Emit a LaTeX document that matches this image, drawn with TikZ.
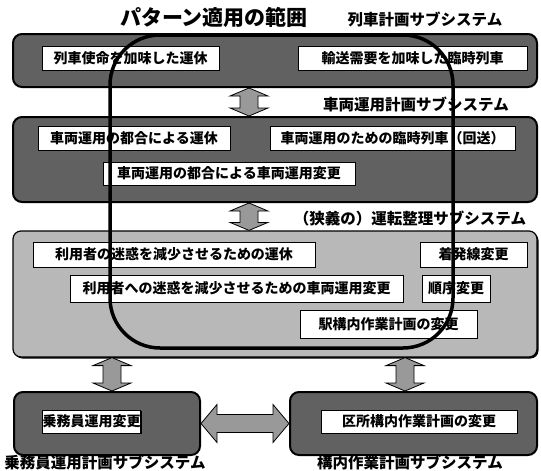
\documentclass[tikz,border=0pt]{standalone}
\usepackage{fontspec}
\newfontfamily\jp{Noto Sans CJK JP}
\usetikzlibrary{shadows,calc}
\newcommand\vdarr[2]{%
  \draw[blockarrow] (#1) -- ([shift={(19,8)}]#1) -- ([shift={(9,8)}]#1) -- ([shift={(9,-8)}]#2) -- ([shift={(19,-8)}]#2) -- (#2) -- ([shift={(-19,-8)}]#2) -- ([shift={(-9,-8)}]#2) -- ([shift={(-9,8)}]#1) -- ([shift={(-19,8)}]#1) -- cycle;}
\newcommand\hdarr[2]{%
  \draw[blockarrow] (#1) -- ([shift={(16,-19)}]#1) -- ([shift={(16,-9)}]#1) -- ([shift={(-16,-9)}]#2) -- ([shift={(-16,-19)}]#2) -- (#2) -- ([shift={(-16,19)}]#2) -- ([shift={(-16,9)}]#2) -- ([shift={(16,9)}]#1) -- ([shift={(16,19)}]#1) -- cycle;}
\tikzset{
  darkbox/.style={draw=black, line width=2pt, fill=black!62, rounded corners=9pt, inner sep=0pt},
  lightbox/.style={draw=black, line width=1.2pt, fill=black!28, rounded corners=8pt, inner sep=0pt,
    drop shadow={shadow xshift=1.5pt, shadow yshift=-1.5pt, fill=black, opacity=1}},
  ibox/.style={draw=black, line width=1pt, fill=white, inner sep=0pt,
    font=\jp\bfseries\fontsize{14}{14}\selectfont,
    drop shadow={shadow xshift=1.2pt, shadow yshift=-1.2pt, fill=black, opacity=1}},
  lbl/.style={font=\jp\bfseries\fontsize{15.5}{16}\selectfont, inner sep=0pt},
  ttl/.style={font=\jp\bfseries\fontsize{21}{22}\selectfont, inner sep=0pt},
  blockarrow/.style={draw=black, line width=0.8pt, fill=black!40},
  scopeline/.style={line width=3.5pt, rounded corners=50pt},
}
\begin{document}
\begin{tikzpicture}[x=1pt,y=-1pt]
\fill[white] (0,0) rectangle (541,471);
\useasboundingbox (0,0) rectangle (541,471);

% titles
\node[ttl] (title) at (214,17) {パターン適用の範囲};
\node[lbl] (lA) at (425,19) {列車計画サブシステム};

% box A
\node[darkbox, minimum width=524pt, minimum height=53pt] (A) at (275,60.5) {};
\node[ibox, minimum width=177pt, minimum height=24pt] (A1) at (130.5,58) {列車使命を加味した運休};
\node[ibox, minimum width=229pt, minimum height=24pt] (A2) at (412.5,58) {輸送需要を加味した臨時列車};

% box B
\node[lbl] (lB) at (416,105) {車両運用計画サブシステム};
\node[darkbox, minimum width=524pt, minimum height=85pt] (B) at (275,159.5) {};
\node[ibox, minimum width=192pt, minimum height=24pt] (B1) at (134,138) {車両運用の都合による運休};
\node[ibox, minimum width=245pt, minimum height=24pt] (B2) at (392.5,138) {車両運用のための臨時列車（回送）};
\node[ibox, minimum width=252pt, minimum height=23pt] (B3) at (229,173.5) {車両運用の都合による車両運用変更};

% box C
\node[lbl] (lC) at (410,219) {（狭義の）運転整理サブシステム};
\node[lightbox, minimum width=524pt, minimum height=126pt] (C) at (275,294) {};
\node[ibox, minimum width=282pt, minimum height=25pt] (C1) at (174,254.5) {利用者の迷惑を減少させるための運休};
\node[ibox, minimum width=107pt, minimum height=25pt] (C2) at (473.5,254.5) {着発線変更};
\node[ibox, minimum width=333pt, minimum height=27pt] (C3) at (236.5,288.5) {利用者への迷惑を減少させるための車両運用変更};
\node[ibox, minimum width=68pt, minimum height=27pt] (C4) at (456,288.5) {順序変更};
\node[ibox, minimum width=177pt, minimum height=28pt] (C5) at (388.5,324) {駅構内作業計画の変更};

% boxes D, E
\node[darkbox, minimum width=186pt, minimum height=63pt] (D) at (107,423.5) {};
\node[ibox, minimum width=97pt, minimum height=23pt] (D1) at (91.5,421.5) {乗務員運用変更};
\node[darkbox, minimum width=247pt, minimum height=63pt] (E) at (413.5,423.5) {};
\node[ibox, minimum width=196pt, minimum height=23pt] (E1) at (419,421.5) {区所構内作業計画の変更};
\node[lbl] (lD) at (105,462) {乗務員運用計画サブシステム};
\node[lbl] (lE) at (410,462) {構内作業計画サブシステム};

% arrows
\coordinate (x1) at (249,0);
\coordinate (x3) at (112,0);
\coordinate (x4) at (405,0);
\vdarr{A.south -| x1}{B.north -| x1}
\vdarr{B.south -| x1}{C.north -| x1}
\vdarr{C.south -| x3}{D.north -| x3}
\vdarr{C.south -| x4}{E.north -| x4}
\hdarr{D.east}{E.west}

% scope of the pattern
\draw[scopeline] (110,35) rectangle (453,348);
\end{tikzpicture}
\end{document}
